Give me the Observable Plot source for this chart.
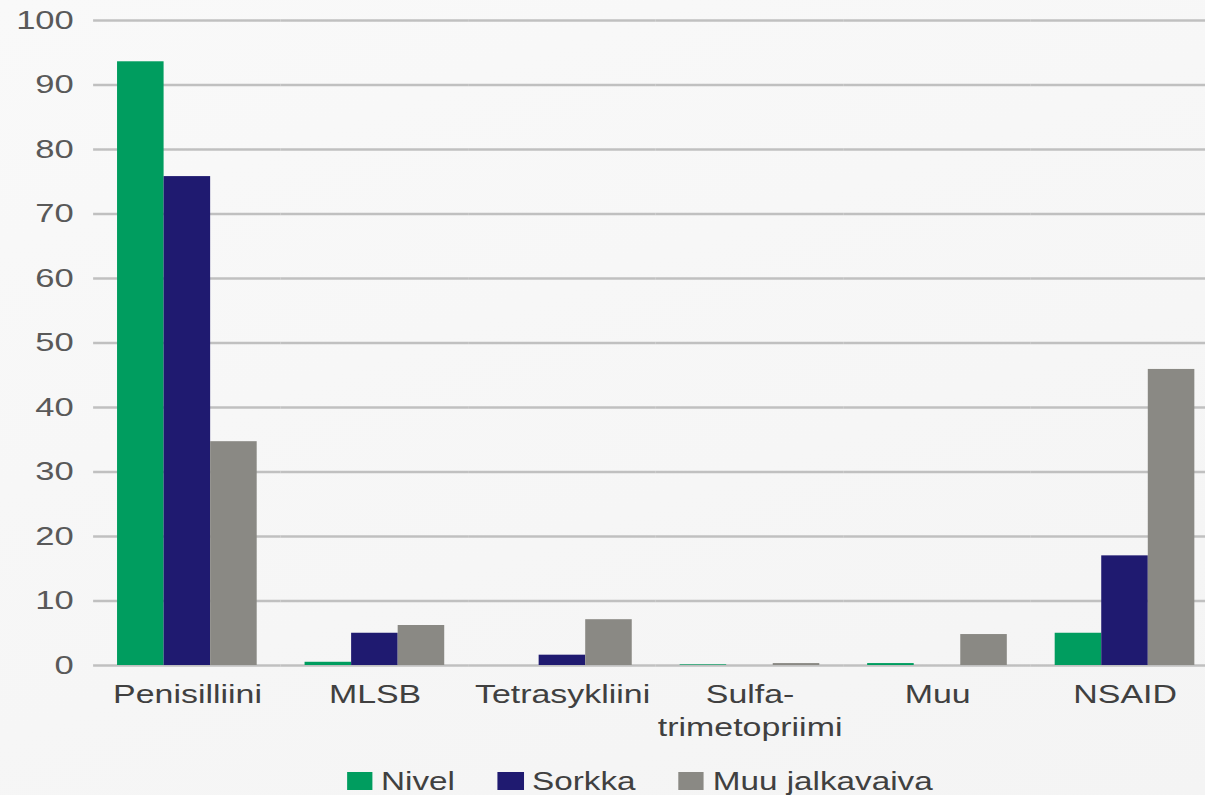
<!DOCTYPE html>
<html>
<head>
<meta charset="utf-8">
<script src="https://cdn.jsdelivr.net/npm/d3@7"></script>
<script src="https://cdn.jsdelivr.net/npm/@observablehq/plot@0.6"></script>
<style>
  html, body { margin: 0; padding: 0; background: #f7f7f7; overflow: hidden; }
  #wrap { position: relative; width: 1205px; height: 795px; overflow: hidden;
          background: linear-gradient(160deg, #f9f9f9 0%, #f4f4f4 100%); }
  #stretch { position: absolute; left: 0; top: 0; width: 918px; height: 795px;
             transform: scaleX(1.33); transform-origin: 0 0; font-family: "Liberation Sans", Arial, sans-serif; }
  #chart svg { background: none; overflow: visible; }
  #legend { position: absolute; top: 766px; left: 260.5px; display: flex; gap: 32px;
            font-size: 25px; color: #404040; line-height: 30px; }
  .item { display: flex; align-items: center; gap: 6.5px; }
  .sw { width: 19.5px; height: 18px; display: inline-block; }
</style>
</head>
<body>
<div id="wrap"><div id="stretch"><div id="chart"></div><div id="legend"></div></div></div>
<script>
const categories = ["Penisilliini", "MLSB", "Tetrasykliini", "Sulfa-trimetopriimi", "Muu", "NSAID"];
const series = ["Nivel", "Sorkka", "Muu jalkavaiva"];
const nivel  = [93.6, 0.5, 0, 0.1, 0.3, 5.0];
const sorkka = [75.8, 5.0, 1.6, 0, 0, 17.0];
const muu    = [34.7, 6.2, 7.1, 0.3, 4.8, 45.9];
const colors = ["#009d5f", "#1f1a70", "#8a8984"];
const yTicks = [0, 10, 20, 30, 40, 50, 60, 70, 80, 90, 100];

const values = [nivel, sorkka, muu];
const table = [];
categories.forEach((c, i) => series.forEach((s, j) => table.push({category: c, series: s, value: values[j][i]})));

const chart = Plot.plot({
  width: 918,
  height: 740,
  marginTop: 20,
  marginBottom: 75,
  marginLeft: 68,
  marginRight: 0,
  style: {fontFamily: "Liberation Sans, Arial, sans-serif", background: "none"},
  fx: {domain: categories, padding: 0},
  x: {domain: series, paddingInner: 0, paddingOuter: 0.5, axis: null},
  y: {domain: [0, 100], axis: null},
  color: {domain: series, range: colors},
  marks: [
    Plot.ruleY(yTicks, {y: d => d, stroke: "#c0c0c0", strokeWidth: 2.7}),
    Plot.barY(table, {fx: "category", x: "series", y: "value", fill: "series"}),
    Plot.axisY(yTicks, {tickSize: 0, tickPadding: 15, fontSize: 26, fill: "#595959", label: null}),
    Plot.axisFx({anchor: "bottom", tickSize: 0, tickPadding: 14, fontSize: 25.5, fill: "#404040",
                 lineHeight: 1.3, label: null,
                 tickFormat: d => d.replace("-", "-\n")})
  ]
});
document.getElementById("chart").appendChild(chart);

const legend = document.getElementById("legend");
series.forEach((s, j) => {
  const it = document.createElement("div");
  it.className = "item";
  it.innerHTML = `<span class="sw" style="background:${colors[j]}"></span><span>${s}</span>`;
  legend.appendChild(it);
});
</script>
</body>
</html>
